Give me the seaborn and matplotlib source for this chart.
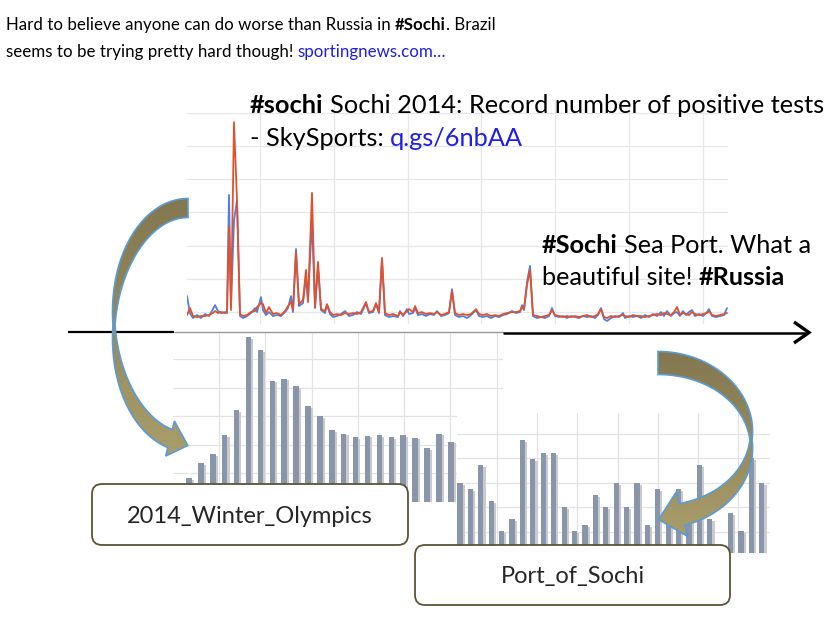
import numpy as np
import seaborn as sns
import matplotlib.pyplot as plt
from matplotlib import patheffects
from matplotlib.patches import FancyBboxPatch, PathPatch
from matplotlib.path import Path
from matplotlib.colors import LinearSegmentedColormap

# --- top panel: daily mentions, two sources -------------------------------
days = [
    0, 1.5, 3, 5, 7, 9, 11, 13, 14, 15.5,
    17, 19, 20, 21, 22, 23.5, 25, 26.5, 28, 30,
    32, 34, 35, 37, 38, 39.5, 41, 43, 45, 47,
    49, 50.5, 52, 53, 54.5, 56, 58, 59.5, 60.5, 62.5,
    64, 65.5, 67, 69, 70, 71.5, 73, 75, 77, 79,
    81, 83, 85, 87, 89.5, 91, 93, 94.5, 96, 97.5,
    99, 101, 103, 105.5, 106.5, 108, 110, 111, 113, 114,
    115.5, 117.5, 119.5, 121.5, 123.5, 125, 127, 129, 131, 132.5,
    134, 136, 138, 140, 142, 144.5, 146, 148, 150, 152,
    154, 156, 158, 160, 162.5, 164.5, 166.5, 167.5, 168.5, 170,
    171.5, 173, 175, 177, 179, 181, 182.5, 184, 186, 188,
    190, 192, 194, 196, 198, 200, 202, 204, 205.5, 207,
    208.5, 210, 212, 214, 216, 218, 219, 221, 223, 225,
    227, 229, 231, 233, 235, 237, 238.5, 240, 242, 243.5,
    245, 246.5, 248, 249.5, 251, 252.5, 254, 256, 258, 260,
    261, 262.5, 264.5, 266.5, 268.5, 270,
]
blue_mentions = [
    7.2, 2.0, 0.6, 1.5, 0.6, 1.8, 1.2, 3.3, 4.5, 2.7,
    2.1, 2.4, 2.1, 37.7, 4.5, 30.0, 36.1, 1.2, 0.6, 1.2,
    2.1, 3.6, 2.4, 6.9, 3.0, 1.5, 2.4, 1.2, 1.5, 1.2,
    2.4, 3.6, 7.2, 2.4, 21.4, 4.2, 5.1, 13.0, 6.0, 30.0,
    3.6, 16.0, 3.0, 2.1, 4.5, 1.8, 0.9, 1.2, 1.8, 2.7,
    1.2, 1.5, 2.4, 1.8, 5.0, 2.1, 2.4, 4.8, 2.1, 18.1,
    1.5, 0.9, 1.2, 0.9, 2.7, 1.2, 3.3, 1.8, 2.1, 3.6,
    1.5, 1.8, 1.2, 1.8, 1.5, 2.7, 1.2, 1.5, 2.1, 9.3,
    1.5, 0.9, 1.2, 0.6, 1.5, 3.0, 1.2, 0.9, 1.2, 0.6,
    1.2, 0.9, 1.5, 1.8, 2.7, 2.1, 2.4, 4.5, 3.0, 11.4,
    16.3, 1.2, 0.6, 0.9, 0.6, 1.2, 3.6, 1.2, 0.9, 1.2,
    0.6, 1.2, 0.9, 0.6, 1.2, 0.9, 1.2, 0.6, 1.5, 3.6,
    0.3, -0.3, 0.6, 1.2, 0.9, 2.1, 0.6, 1.2, 0.9, 1.2,
    0.6, 1.5, 0.9, 1.8, 1.2, 2.4, 1.2, 2.7, 1.2, 2.1,
    2.4, 1.2, 2.7, 1.5, 2.4, 3.0, 1.2, 1.8, 1.2, 2.4,
    3.3, 1.2, 0.9, 1.2, 1.5, 3.6,
]
red_mentions = [
    1.5, 3.6, 1.2, 0.9, 1.2, 1.2, 1.5, 2.1, 2.7, 2.1,
    2.4, 2.1, 2.4, 28.0, 3.0, 59.6, 36.1, 1.8, 1.2, 1.5,
    2.4, 2.7, 3.9, 5.1, 4.8, 2.1, 3.9, 1.8, 2.1, 1.5,
    2.7, 4.2, 5.4, 3.0, 20.5, 4.8, 6.0, 15.1, 5.4, 38.3,
    3.9, 17.5, 3.3, 2.7, 4.8, 2.4, 1.5, 1.8, 1.5, 2.1,
    1.8, 2.1, 1.8, 2.4, 5.4, 2.4, 2.7, 5.1, 2.4, 18.7,
    2.1, 1.5, 1.8, 1.2, 2.4, 1.5, 2.7, 3.3, 2.4, 4.2,
    2.1, 2.4, 1.8, 2.1, 1.8, 2.4, 1.5, 1.8, 2.4, 8.7,
    2.1, 1.5, 1.8, 1.5, 1.8, 3.3, 1.8, 1.5, 1.8, 1.2,
    1.5, 1.2, 1.8, 2.1, 2.4, 2.4, 2.7, 3.9, 3.3, 10.5,
    15.1, 1.5, 1.2, 0.9, 1.2, 1.5, 3.0, 1.5, 1.2, 0.9,
    1.2, 0.9, 1.2, 0.9, 1.2, 1.5, 0.9, 1.2, 1.8, 3.3,
    0.9, 0.6, 1.2, 0.9, 1.2, 1.5, 1.2, 0.9, 1.5, 1.2,
    1.2, 0.9, 1.2, 1.5, 1.8, 1.5, 2.1, 1.8, 1.5, 2.4,
    3.9, 1.5, 2.1, 1.8, 1.5, 2.4, 1.8, 1.5, 1.8, 2.1,
    2.7, 1.5, 1.2, 1.5, 1.8, 2.1,
]

# --- bottom panels: weekly page views -----------------------------------
olympics_weeks = list(range(23))
olympics_views = [8.4, 13.7, 16.8, 23.5, 32.3, 57.9, 53.3, 42.5, 43.2, 40.7,
                  33.7, 30.2, 25.3, 23.9, 22.8, 23.2, 23.5, 22.8, 23.5, 22.5,
                  18.9, 23.9, 21.1]

port_weeks = list(range(30))
port_views = [28.6, 26.1, 35.9, 21.2, 9.0, 13.9, 46.1, 38.4, 40.8, 40.8,
              18.8, 9.0, 11.4, 23.7, 18.8, 28.6, 18.8, 28.6, 11.4, 26.1,
              18.8, 26.1, 21.2, 35.9, 13.9, 2.5, 16.3, 9.0, 38.8, 28.6]

box_labels = ['2014_Winter_Olympics', 'Port_of_Sochi']

# tweets: (text, weight, is_link)
tweet_top = [
    [("Hard to believe anyone can do worse than Russia in ", 'normal', False),
     ("#Sochi", 'bold', False), (". Brazil", 'normal', False)],
    [("seems to be trying pretty hard though! ", 'normal', False),
     ("sportingnews.com\u2026", 'normal', True)],
]
tweet_olympics = [
    [("#sochi", 'bold', False), (" Sochi 2014: Record number of positive tests", 'normal', False)],
    [("- SkySports: ", 'normal', False), ("q.gs/6nbAA", 'normal', True)],
]
tweet_port = [
    [("#Sochi", 'bold', False), (" Sea Port. What a", 'normal', False)],
    [("beautiful site! ", 'normal', False), ("#Russia", 'bold', False)],
]

W, H = 831, 618
BLUE_LINE = '#4d80e2'
RED_LINE = '#e2512b'
BAR = '#8995a9'
LINK = '#1e1ee8'

sns.set_theme(style='white')
plt.rcParams['font.family'] = ['Lato', 'DejaVu Sans']

fig = plt.figure(figsize=(W / 100, H / 100), dpi=100)


def px_axes(x0, y0, x1, y1, z):
    # place an axes by its pixel box, origin at top-left
    return fig.add_axes([x0 / W, 1 - y1 / H, (x1 - x0) / W, (y1 - y0) / H], zorder=z)


def clean(ax):
    ax.set_xlabel('')
    ax.set_ylabel('')
    ax.tick_params(length=0, labelbottom=False, labelleft=False)
    for s in ax.spines.values():
        s.set_visible(False)
    ax.set_axisbelow(True)


# line chart
axl = px_axes(187, 100, 728, 324, 1)
sns.lineplot(x=days, y=blue_mentions, ax=axl, color=BLUE_LINE, linewidth=1.3)
sns.lineplot(x=days, y=red_mentions, ax=axl, color=RED_LINE, linewidth=1.3)
axl.set_xlim(0, 270.5)
axl.set_ylim(-1.2, 66.3)
axl.set_xticks(np.arange(36.5, 270, 36.9))
axl.set_yticks(np.arange(2.4, 66, 10))
axl.grid(True, color='#e7e7e7', linewidth=0.9)
clean(axl)


def bar_panel(box, z, weeks, views, width, xlim, ylim, xgrid, ygrid):
    ax = px_axes(*box, z)
    sns.barplot(x=weeks, y=views, ax=ax, color=BAR, saturation=1, width=width, linewidth=0)
    shadow = [patheffects.SimplePatchShadow(offset=(1.5, -1.2), shadow_rgbFace='#c9cbcf', alpha=1),
              patheffects.Normal()]
    for p in ax.patches:
        p.set_path_effects(shadow)
    ax.set_xlim(*xlim)
    ax.set_ylim(*ylim)
    ax.set_xticks(xgrid)
    ax.set_yticks(ygrid)
    ax.grid(True, color='#e3e3e3', linewidth=0.9)
    clean(ax)
    return ax


ax1 = bar_panel((173, 332, 503, 502), 2, olympics_weeks, olympics_views, 0.46,
                (-1.345, 26.39), (0, 59.6), np.arange(2.52, 26.4, 3.89), np.arange(10, 59, 10))
ax2 = bar_panel((457, 413, 770, 553), 3, port_weeks, port_views, 0.5,
                (-0.29, 29.78), (0, 57.1), np.arange(3.55, 29.7, 3.86), np.arange(8.6, 56, 10))

# overlay in pixel coordinates
ov = fig.add_axes([0, 0, 1, 1], zorder=10)
ov.axis('off')

# time axis
ov.plot([68, 174], [332, 332], color='black', lw=1.6, solid_capstyle='butt')
ov.plot([174, 503], [332, 332], color='#9a9a9a', lw=1.0)
ov.plot([503, 806], [332.5, 332.5], color='black', lw=1.8, solid_capstyle='butt')
ov.plot([794, 809, 794], [322, 332.5, 343], color='black', lw=2.4,
        solid_joinstyle='miter', solid_capstyle='butt')

arrow_cmap = LinearSegmentedColormap.from_list('khaki', ['#82774f', '#aa9d6b'])


def curved_arrow(cx, cy, rx, ry, t0, t1, w_end, head_w, head_len):
    t = np.radians(np.linspace(t0, t1, 120))
    w = 1 + (w_end - 1) * np.abs(np.sin(t))
    outer = np.column_stack([cx + (rx + w) * np.cos(t), cy - (ry + w) * np.sin(t)])
    inner = np.column_stack([cx + (rx - w) * np.cos(t), cy - (ry - w) * np.sin(t)])
    te = t[-1]
    centre = np.array([cx + rx * np.cos(te), cy - ry * np.sin(te)])
    d = np.sign(t1 - t0) * np.array([-rx * np.sin(te), -ry * np.cos(te)])
    d /= np.hypot(*d)
    side = np.array([np.cos(te), -np.sin(te)])
    head = [centre + head_w * side, centre + head_len * d, centre - head_w * side]
    pts = np.vstack([outer, head, inner[::-1], outer[:1]])
    patch = PathPatch(Path(pts, closed=True), facecolor='none', edgecolor='#5b9bd5', lw=1.2, zorder=4)
    ov.add_patch(patch)
    x0, y0 = pts.min(axis=0)
    x1, y1 = pts.max(axis=0)
    grad = np.linspace(0, 1, 256).reshape(-1, 1)
    im = ov.imshow(grad, cmap=arrow_cmap, extent=(x0, x1, y1, y0), aspect='auto',
                   origin='upper', zorder=3)
    im.set_clip_path(patch)


curved_arrow(188, 325, 74, 117, 90, 256, 9.5, 18, 19)
curved_arrow(658, 440, 93, 77, 90, -75, 11.5, 23, 24)

# label boxes
boxes = [(92, 484, 316, 61), (415, 545, 315, 60)]
for (bx, by, bw, bh) in boxes:
    ov.add_patch(FancyBboxPatch((bx, by), bw, bh, boxstyle='round,pad=0,rounding_size=10',
                                fc='white', ec='#5b5535', lw=1.3, zorder=5))

ov.set_xlim(0, W)
ov.set_ylim(H, 0)

renderer = fig.canvas.get_renderer()


def ink_width(s, size, weight):
    t = ov.text(0, 0, s, fontsize=size, fontweight=weight)
    w = t.get_window_extent(renderer).width
    t.remove()
    return w


def rich_line(x, y, parts, size, draw=True):
    gap = ink_width('x x', size, 'normal') - ink_width('xx', size, 'normal')
    for s, weight, link in parts:
        body = s.strip(' ')
        x += gap * (len(s) - len(s.lstrip(' ')))
        if draw:
            ov.text(x, y, body, fontsize=size, fontweight=weight, color=LINK if link else 'black',
                    va='baseline', ha='left', zorder=6)
        x += ink_width(body, size, weight)
        x += gap * (len(s) - len(s.rstrip(' ')))
    return x


def fit_size(parts, target, guess=14):
    return guess * target / rich_line(0, 0, parts, guess, draw=False)


# Lato runs wider than the original face, so give the small tweet a little extra height
size = fit_size(tweet_top[0], 462) * 1.06
rich_line(6, 30, tweet_top[0], size)
rich_line(6, 57, tweet_top[1], size)

size = fit_size(tweet_olympics[0], 576)
rich_line(250, 113, tweet_olympics[0], size)
rich_line(250, 146, tweet_olympics[1], size)

size = fit_size(tweet_port[0], 270)
rich_line(542, 253, tweet_port[0], size)
rich_line(542, 285, tweet_port[1], size)

size = fit_size([(box_labels[0], 'normal', False)], 246)
for (bx, by, bw, bh), label in zip(boxes, box_labels):
    ov.text(bx + bw / 2, by + bh / 2 + 2, label, fontsize=size, ha='center', va='center', zorder=6)

fig.savefig('out.png', dpi=100)
